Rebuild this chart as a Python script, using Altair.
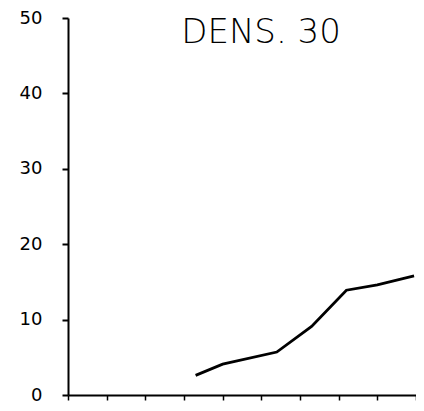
import altair as alt
import pandas as pd

xs = [3.3, 4.0, 5.4, 6.3, 7.2, 8.0, 8.95]
ys = [2.6, 4.1, 5.7, 9.1, 13.9, 14.6, 15.8]
x_ticks = list(range(0, 10))
y_ticks = [0, 10, 20, 30, 40, 50]
title_text = "DENS. 30"

df = pd.DataFrame({"x": xs, "y": ys})

x_scale = alt.Scale(domain=[0, 9], nice=False, zero=False)
y_scale = alt.Scale(domain=[0, 50], nice=False)

line = alt.Chart(df).mark_line(color="black", strokeWidth=2.8).encode(
    x=alt.X("x:Q", scale=x_scale,
            axis=alt.Axis(values=x_ticks, labels=False, title=None, grid=False,
                          tickSize=5, tickColor="black", tickWidth=1.5,
                          domainColor="black", domainWidth=2)),
    y=alt.Y("y:Q", scale=y_scale,
            axis=alt.Axis(values=y_ticks, title=None, grid=False,
                          tickSize=6, tickColor="black", tickWidth=2,
                          domainColor="black", domainWidth=2,
                          labelFont="DejaVu Sans", labelFontSize=18,
                          labelColor="black", labelPadding=20)),
)

title = alt.Chart(pd.DataFrame({"t": [title_text]})).mark_text(
    font="DejaVu Sans", fontSize=34, fontWeight=200, color="black",
    align="center", baseline="alphabetic"
).encode(text="t:N", x=alt.value(193), y=alt.value(25))

chart = alt.layer(line, title).properties(
    width=348, height=377,
    background="white",
    autosize=alt.AutoSizeParams(type="none"),
    padding={"left": 60, "top": 10, "right": 0, "bottom": 8},
).configure_view(strokeWidth=0, stroke="transparent")

chart.save("out.html", embed_options={"renderer": "svg", "actions": False})
